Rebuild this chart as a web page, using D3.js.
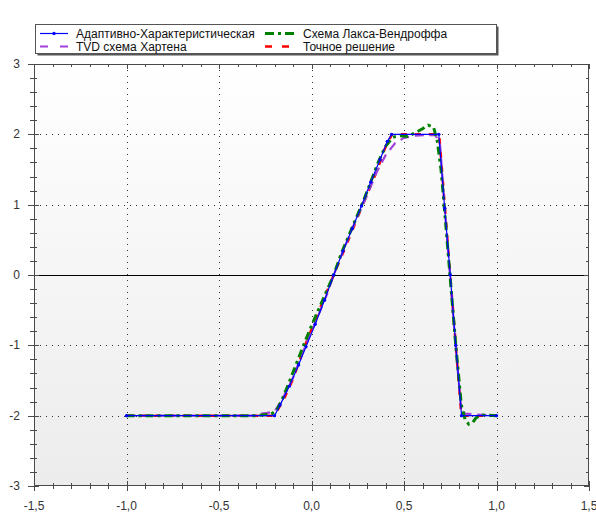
<!DOCTYPE html>
<html><head><meta charset="utf-8">
<script src="https://cdn.jsdelivr.net/npm/d3@7"></script>
<style>body{margin:0;background:#fff;} svg{display:block;font-family:"Liberation Sans",Arial,sans-serif;}</style>
</head><body><svg id="c" width="596" height="518"></svg>
<script>
// ---- data ----
const seriesNames = ["Адаптивно-Характеристическая","TVD схема Хартена","Схема Лакса-Вендроффа","Точное решение"];
const xTicks = [-1.5,-1.0,-0.5,0.0,0.5,1.0,1.5];
const yTicks = [-3,-2,-1,0,1,2,3];

const exactX = [-1,-0.2,-0.15,-0.1,-0.035,0.05,0.12,0.2,0.277,0.352,0.397,0.435,0.69,0.81,1.0];
const exactY = [-2,-2,-1.77,-1.48,-1.0,-0.45,0,0.5,1.0,1.47,1.8,2,2,-2,-2];

const adaptX = [-1,-0.2,-0.17,-0.12,-0.07,-0.03,0.02,0.07,0.12,0.17,0.22,0.27,0.32,0.37,0.41,0.433,0.688,0.72,0.75,0.78,0.811,1.0];
const adaptY = [-2,-2,-1.85,-1.58,-1.28,-1.02,-0.7,-0.36,0,0.34,0.66,0.98,1.32,1.64,1.9,2,2,0.95,0,-1,-2,-2];

const tvdX = [-1,-0.3,-0.27,-0.24,-0.2,-0.16,-0.1,-0.04,0.02,0.08,0.12,0.18,0.24,0.3,0.35,0.4,0.45,0.5,0.56,0.62,0.67,0.695,0.72,0.75,0.78,0.81,0.83,0.87,1.0];
const tvdY = [-2,-2,-1.97,-1.96,-1.94,-1.78,-1.46,-1.05,-0.68,-0.3,0,0.4,0.78,1.13,1.45,1.7,1.87,1.95,1.98,1.99,1.99,1.85,0.95,-0.05,-1.05,-1.92,-1.97,-1.98,-2];

const lwX = [-1,-0.6,-0.3,-0.22,-0.19,-0.16,-0.12,-0.08,-0.04,0,0.04,0.08,0.12,0.16,0.2,0.24,0.28,0.32,0.36,0.4,0.44,0.48,0.52,0.56,0.6,0.63,0.66,0.68,0.7,0.72,0.75,0.78,0.81,0.83,0.85,0.87,0.89,0.92,1.0];
const lwY = [-2,-2,-2,-1.98,-1.93,-1.78,-1.52,-1.25,-0.98,-0.72,-0.48,-0.24,0,0.3,0.55,0.8,1.05,1.32,1.6,1.83,1.96,1.98,1.97,2.02,2.08,2.13,2.1,1.9,1.5,0.9,-0.05,-1.0,-1.85,-2.05,-2.12,-2.1,-2.03,-1.99,-2];

// ---- layout ----
const svg = d3.select("#c");
const L=34, R=589, T=64, B=486;
const x = d3.scaleLinear().domain([-1.5,1.5]).range([L,R]);
const y = d3.scaleLinear().domain([-3,3]).range([B,T]);

const defs = svg.append("defs");
const g = defs.append("linearGradient").attr("id","bg").attr("x1",0).attr("y1",0).attr("x2",0).attr("y2",1);
g.append("stop").attr("offset","0%").attr("stop-color","#ffffff");
g.append("stop").attr("offset","100%").attr("stop-color","#ececec");
defs.append("clipPath").attr("id","clip").append("rect").attr("x",L).attr("y",T).attr("width",R-L).attr("height",B-T);

svg.append("rect").attr("x",L).attr("y",T).attr("width",R-L).attr("height",B-T).attr("fill","url(#bg)");

// grid
const grid = svg.append("g").attr("stroke","#333").attr("stroke-width",1).attr("stroke-dasharray","1,5");
xTicks.filter(v=>v>-1.5&&v<1.5).forEach(v=>{
  grid.append("line").attr("x1",Math.round(x(v))+0.5).attr("x2",Math.round(x(v))+0.5).attr("y1",T).attr("y2",B);
});
yTicks.filter(v=>v>-3&&v<3&&v!==0).forEach(v=>{
  grid.append("line").attr("x1",L).attr("x2",R).attr("y1",Math.round(y(v))+0.5).attr("y2",Math.round(y(v))+0.5);
});
svg.append("line").attr("x1",L).attr("x2",R).attr("y1",Math.round(y(0))+0.5).attr("y2",Math.round(y(0))+0.5).attr("stroke","#000").attr("stroke-width",1);

// frame and ticks
const axc="#4a4a4a";
const fr = svg.append("g").attr("stroke",axc).attr("stroke-width",1).attr("fill","none");
fr.append("rect").attr("x",L+0.5).attr("y",T+0.5).attr("width",R-L-1).attr("height",B-T-1);
const xMinor = d3.range(-15,16).map(i=>i/10);
const yMinor = d3.range(-15,16).map(i=>i/5);
xMinor.forEach(v=>{
  const px = Math.round(x(v))+0.5;
  const major = Math.abs(v*2-Math.round(v*2))<1e-6;
  fr.append("line").attr("x1",px).attr("x2",px).attr("y1",B-(major?5:3)).attr("y2",B+(major?5:3));
  fr.append("line").attr("x1",px).attr("x2",px).attr("y1",T).attr("y2",T+(major?5:3));
});
yMinor.forEach(v=>{
  const py = Math.round(y(v))+0.5;
  const major = Math.abs(v-Math.round(v))<1e-6;
  fr.append("line").attr("x1",L-(major?6:4)).attr("x2",L+(major?5:3)).attr("y1",py).attr("y2",py);
  fr.append("line").attr("x1",R).attr("x2",R-(major?5:3)).attr("y1",py).attr("y2",py);
});

// tick labels
const fmt = v=>d3.format(".1f")(v).replace(".",",").replace("−","-");
svg.append("g").selectAll("text").data(xTicks).join("text")
  .attr("x",d=>x(d)).attr("y",510).attr("text-anchor","middle")
  .attr("font-size",12).attr("fill","#333").text(d=>fmt(d));
svg.append("g").selectAll("text").data(yTicks).join("text")
  .attr("x",20).attr("y",d=>y(d)+4).attr("text-anchor","end")
  .attr("font-size",12).attr("fill","#333").text(d=>String(d));

// series
const line = d3.line().x(d=>x(d[0])).y(d=>y(d[1]));
const zip = (a,b)=>a.map((v,i)=>[v,b[i]]);
const plot = svg.append("g").attr("clip-path","url(#clip)").attr("fill","none");
const styles = [
  {color:"#0000ff", w:1.2, dash:null},
  {color:"#a040d8", w:2.2, dash:"9,6"},
  {color:"#008000", w:3, dash:"8,4,3,4"},
  {color:"#ff0000", w:2.5, dash:"6,8"}
];
plot.append("path").attr("d",line(zip(exactX,exactY))).attr("stroke",styles[3].color).attr("stroke-width",styles[3].w).attr("stroke-dasharray",styles[3].dash);
plot.append("path").attr("d",line(zip(tvdX,tvdY))).attr("stroke",styles[1].color).attr("stroke-width",styles[1].w).attr("stroke-dasharray",styles[1].dash);
plot.append("path").attr("d",line(zip(lwX,lwY))).attr("stroke",styles[2].color).attr("stroke-width",styles[2].w).attr("stroke-dasharray",styles[2].dash);
plot.append("path").attr("d",line(zip(adaptX,adaptY))).attr("stroke",styles[0].color).attr("stroke-width",styles[0].w);
plot.append("g").selectAll("circle").data(zip(adaptX,adaptY)).join("circle")
  .attr("cx",d=>x(d[0])).attr("cy",d=>y(d[1])).attr("r",1.7).attr("fill","#0000ff");

// legend
const lg = svg.append("g");
lg.append("rect").attr("x",37.5).attr("y",26.5).attr("width",461).attr("height",29).attr("fill","#555");
lg.append("rect").attr("x",35.5).attr("y",24.5).attr("width",461).attr("height",29).attr("fill","#fff").attr("stroke","#555");
const pos = [[40,68,76,34],[40,68,76,47],[265,295,303,34],[265,295,303,47]];
seriesNames.forEach((n,i)=>{
  const [a,b,tx,ty]=pos[i]; const s=styles[i];
  const ln = lg.append("line").attr("x1",a).attr("x2",b).attr("y1",ty-0.5).attr("y2",ty-0.5).attr("stroke",s.color).attr("stroke-width",i===0?1.2:s.w);
  if(i===1) ln.attr("stroke-dasharray","8,12");
  if(i===2) ln.attr("stroke-dasharray","9,4,3,4");
  if(i===3) ln.attr("stroke-dasharray","7,10");
  if(i===0) lg.append("circle").attr("cx",(a+b)/2).attr("cy",ty-0.5).attr("r",1.7).attr("fill",s.color);
  lg.append("text").attr("x",tx).attr("y",ty+4).attr("font-size",12).attr("fill","#111").text(n);
});
</script></body></html>
